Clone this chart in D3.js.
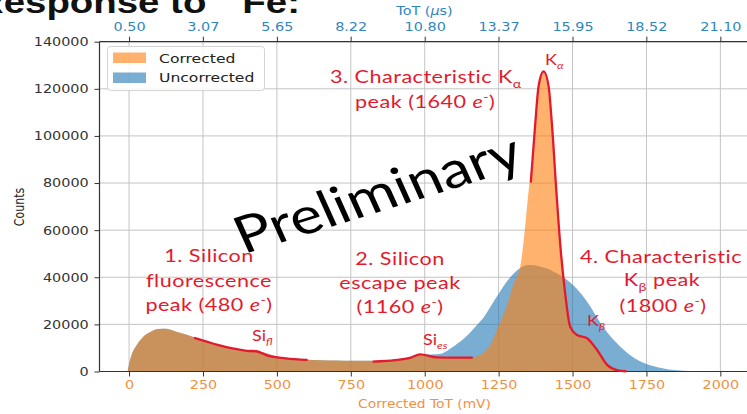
<!DOCTYPE html>
<html>
<head>
<meta charset="utf-8">
<script src="https://cdn.jsdelivr.net/npm/d3@7"></script>
<style>
  html, body { margin: 0; padding: 0; background: #fff; overflow: hidden; }
  svg { display: block; }
</style>
</head>
<body>
<svg id="chart" width="747" height="414"></svg>
<script>
// ToT histogram bin centres (mV)
const totMV = [-5, 0, 10, 25, 50, 75, 100, 125, 150, 175,
  200, 250, 300, 350, 400, 450, 500, 550, 600, 650,
  700, 750, 800, 850, 900, 950, 975, 1000, 1050, 1100,
  1150, 1175, 1200, 1225, 1250, 1275, 1300, 1325, 1340, 1350,
  1360, 1375, 1385, 1400, 1415, 1430, 1445, 1460, 1475, 1490,
  1515, 1550, 1585, 1615, 1650, 1700, 1750, 1800, 1850, 1900,
  1950, 2000, 2050, 2100];

// Counts per bin, corrected ToT
const corrected = [0, 3000, 7500, 11000, 15000, 17000, 18000, 18100, 17300, 16300,
  15400, 13300, 11200, 9800, 8800, 8300, 6400, 5600, 5000, 4800,
  4700, 4600, 4600, 4700, 5000, 6000, 7000, 7200, 5900, 5600,
  5800, 6400, 8200, 12000, 19500, 27000, 37000, 46000, 62000, 75000,
  86000, 106000, 119000, 127000, 121000, 104000, 77000, 52000, 33000, 20000,
  15500, 13800, 9000, 3000, 700, 100, 0, 0, 0, 0,
  0, 0, 0, 0];

// Counts per bin, uncorrected ToT
const uncorrected = [0, 3000, 7500, 11000, 15000, 17000, 18000, 18100, 17300, 16300,
  15400, 13300, 11200, 9800, 8800, 8300, 6400, 5600, 5000, 4800,
  4700, 4600, 4600, 4700, 5000, 6000, 6800, 7000, 7400, 10800,
  16000, 19500, 23000, 28000, 33000, 37800, 41500, 44000, 45000, 45200,
  45200, 45000, 44700, 44300, 43700, 42800, 41800, 40800, 39500, 38000,
  35000, 29500, 22500, 17000, 12000, 6500, 3200, 1500, 500, 150,
  30, 0, 0, 0];

// Axis ticks
const countTicks = [0, 20000, 40000, 60000, 80000, 100000, 120000, 140000];
const mvTicks = [0, 250, 500, 750, 1000, 1250, 1500, 1750, 2000];
const usTicks = [0.50, 3.07, 5.65, 8.22, 10.80, 13.37, 15.95, 18.52, 21.10];

// Peak outlines traced over the corrected spectrum: [mV, counts]
const siFlTrace = [[223, 14200], [260, 12800], [300, 11300], [350, 9800], [398, 8800],
  [430, 8600], [471, 6600], [530, 5600], [601, 4900]];
const siEsTrace = [[827, 4200], [900, 4800], [950, 5800], [985, 7300], [1041, 6000],
  [1100, 5900], [1160, 5900]];
const kTrace = [[1359, 80600], [1374, 105400], [1385, 121000], [1402, 127400], [1419, 121000],
  [1430, 105400], [1445, 77100], [1459, 53000], [1475, 33200], [1492, 19000], [1515, 15500],
  [1549, 14100], [1583, 9100], [1617, 2800], [1650, 600], [1680, 100]];

const SX = 1.2;               // horizontal text stretch
const RED = "#e31a2d";
const ORANGE_TXT = "#f3903f";
const BLUE_TXT = "#2f86c0";
const INK = "#333";

const svg = d3.select("#chart");

const x = d3.scaleLinear().domain([-100, 2200]).range([99.5, 779.5]);
const y = d3.scaleLinear().domain([0, 140000]).range([371.5, 41.7]);
const xTop = d3.scaleLinear().domain([0.5, 21.1]).range([x(0), x(2000)]);

const plotL = x.range()[0], plotR = 760, plotT = y(140000), plotB = y(0);

// Title
const title = svg.append("text")
  .attr("transform", `translate(-24,13) scale(${SX},1)`)
  .attr("font-family", "Liberation Sans, Arial, sans-serif")
  .attr("font-weight", "bold").attr("font-size", 32).attr("fill", "#111");
title.append("tspan").text("Response to ");
title.append("tspan").attr("dy", -13).attr("font-size", 19).text("55");
title.append("tspan").attr("dy", 13).text("Fe:");

// Grid
const grid = svg.append("g").attr("stroke", "#c4c4c4").attr("stroke-width", 1);
grid.selectAll("line.v").data(mvTicks).join("line").attr("class", "v")
  .attr("x1", d => x(d)).attr("x2", d => x(d)).attr("y1", plotT).attr("y2", plotB);
grid.selectAll("line.h").data(countTicks).join("line").attr("class", "h")
  .attr("x1", plotL).attr("x2", plotR).attr("y1", d => y(d)).attr("y2", d => y(d));

// Histograms
svg.append("clipPath").attr("id", "plotClip").append("rect")
  .attr("x", plotL).attr("y", plotT).attr("width", plotR - plotL).attr("height", plotB - plotT);

const area = d3.area()
  .x(d => x(d[0])).y0(y(0)).y1(d => y(d[1]))
  .curve(d3.curveMonotoneX);

const plot = svg.append("g").attr("clip-path", "url(#plotClip)");
plot.append("path").datum(d3.zip(totMV, uncorrected))
  .attr("d", area).attr("fill", "#1f77b4").attr("fill-opacity", 0.6);
plot.append("path").datum(d3.zip(totMV, corrected))
  .attr("d", area).attr("fill", "#ff7f0e").attr("fill-opacity", 0.6);

// Axes
function styleAxis(g) {
  g.select(".domain").remove();
  g.selectAll(".tick line").attr("stroke", INK);
  g.selectAll(".tick text")
    .attr("font-family", "DejaVu Sans, sans-serif").attr("font-size", 12)
    .attr("transform", `scale(${SX},1)`);
}

svg.append("g").attr("transform", `translate(${plotL},0)`)
  .call(d3.axisLeft(y).tickValues(countTicks).tickFormat(d3.format("d")).tickSize(5).tickPadding(4))
  .call(styleAxis)
  .call(g => g.selectAll(".tick text").attr("fill", INK));

svg.append("g").attr("transform", `translate(0,${plotB})`)
  .call(d3.axisBottom(x).tickValues(mvTicks).tickFormat(d3.format("d")).tickSize(5).tickPadding(4))
  .call(styleAxis)
  .call(g => g.selectAll(".tick text").attr("fill", ORANGE_TXT));

svg.append("g").attr("transform", `translate(0,${plotT})`)
  .call(d3.axisTop(xTop).tickValues(usTicks).tickFormat(d3.format(".2f")).tickSize(5).tickPadding(6))
  .call(styleAxis)
  .call(g => g.selectAll(".tick text").attr("fill", BLUE_TXT));

// Spines
const spines = svg.append("g").attr("stroke", INK).attr("stroke-width", 1.2);
spines.append("line").attr("x1", plotL).attr("x2", plotR).attr("y1", plotT).attr("y2", plotT);
spines.append("line").attr("x1", plotL).attr("x2", plotR).attr("y1", plotB).attr("y2", plotB);
spines.append("line").attr("x1", plotL).attr("x2", plotL).attr("y1", plotT).attr("y2", plotB);

// Text with sub/superscript parts, stretched horizontally
function richText(px, py, parts, o) {
  const t = svg.append("text")
    .attr("transform", `translate(${px},${py}) scale(${SX},1)` + (o.rotate ? ` rotate(${o.rotate})` : ""))
    .attr("text-anchor", o.anchor || "start")
    .attr("font-family", o.family)
    .attr("font-size", o.size)
    .attr("fill", o.fill);
  if (o.spacing) t.attr("letter-spacing", o.spacing);
  let shift = 0;
  parts.forEach(p => {
    const part = typeof p === "string" ? { t: p } : p;
    const target = part.sub ? o.size * 0.25 : part.sup ? -o.size * 0.4 : 0;
    const ts = t.append("tspan").text(part.t);
    if (target - shift !== 0) ts.attr("dy", target - shift);
    shift = target;
    if (part.sub || part.sup) ts.attr("font-size", o.size * 0.66);
    if (part.it) ts.attr("font-style", "italic");
  });
  return t;
}

// Axis titles
const dv = "DejaVu Sans, sans-serif";
richText(424.5, 408, ["Corrected ToT (mV)"], { family: dv, size: 11.5, fill: ORANGE_TXT, anchor: "middle" });
richText(424.5, 14.5, ["ToT (", { t: "μ", it: true }, "s)"], { family: dv, size: 12, fill: BLUE_TXT, anchor: "middle" });
richText(24, 207, ["Counts"], { family: dv, size: 11, fill: "#222", anchor: "middle", rotate: -90 });

// Legend
const legend = svg.append("g");
legend.append("rect").attr("x", 107.5).attr("y", 46.5).attr("width", 157).attr("height", 44).attr("rx", 3)
  .attr("fill", "#fff").attr("fill-opacity", 0.85).attr("stroke", "#d4d4d4");
[["Corrected", "#ff7f0e", 52.5, 62.5], ["Uncorrected", "#1f77b4", 72.5, 81.5]].forEach(([name, c, py, ty]) => {
  legend.append("rect").attr("x", 113).attr("y", py).attr("width", 33).attr("height", 10.5)
    .attr("fill", c).attr("fill-opacity", 0.6);
  richText(159, ty, [name], { family: dv, size: 13, fill: "#222" });
});

// Peak outlines
const traceLine = d3.line().x(d => x(d[0])).y(d => y(d[1])).curve(d3.curveMonotoneX);
[siFlTrace, siEsTrace, kTrace].forEach(tr => {
  svg.append("path").datum(tr).attr("d", traceLine)
    .attr("fill", "none").attr("stroke", RED).attr("stroke-width", 2.3).attr("stroke-linecap", "round");
});

// Annotations
const ann = { family: "Lato, sans-serif", size: 18, fill: RED, spacing: 0.4 };
const eMinus = [{ t: "e", it: true }, { t: "-", sup: true }];
richText(209, 262, ["1. Silicon"], { ...ann, anchor: "middle" });
richText(209, 287, ["fluorescence"], { ...ann, anchor: "middle" });
richText(209, 311, ["peak (480 ", ...eMinus, ")"], { ...ann, anchor: "middle" });

richText(400, 265, ["2. Silicon"], { ...ann, anchor: "middle" });
richText(400, 289, ["escape peak"], { ...ann, anchor: "middle" });
richText(400, 313, ["(1160 ", ...eMinus, ")"], { ...ann, anchor: "middle" });

richText(330, 83, ["3. Characteristic K", { t: "α", sub: true }], ann);
richText(355, 108, ["peak (1640 ", ...eMinus, ")"], ann);

richText(580, 263, ["4. Characteristic"], ann);
richText(662, 286, ["K", { t: "β", sub: true }, " peak"], { ...ann, anchor: "middle" });
richText(663, 312, ["(1800 ", ...eMinus, ")"], { ...ann, anchor: "middle" });

const small = { family: "Lato, sans-serif", size: 15, fill: RED };
richText(545, 65, ["K", { t: "α", sub: true, it: true }], small);
richText(587, 326, ["K", { t: "β", sub: true, it: true }], small);
richText(252, 341, ["Si", { t: "fl", sub: true, it: true }], small);
richText(423, 345, ["Si", { t: "es", sub: true, it: true }], small);

// Watermark
svg.append("text")
  .attr("transform", `translate(385,210) scale(${SX},1) rotate(-20.6)`)
  .attr("text-anchor", "middle")
  .attr("font-family", "Lato, sans-serif").attr("font-size", 51).attr("fill", "#000")
  .text("Preliminary");
</script>
</body>
</html>
